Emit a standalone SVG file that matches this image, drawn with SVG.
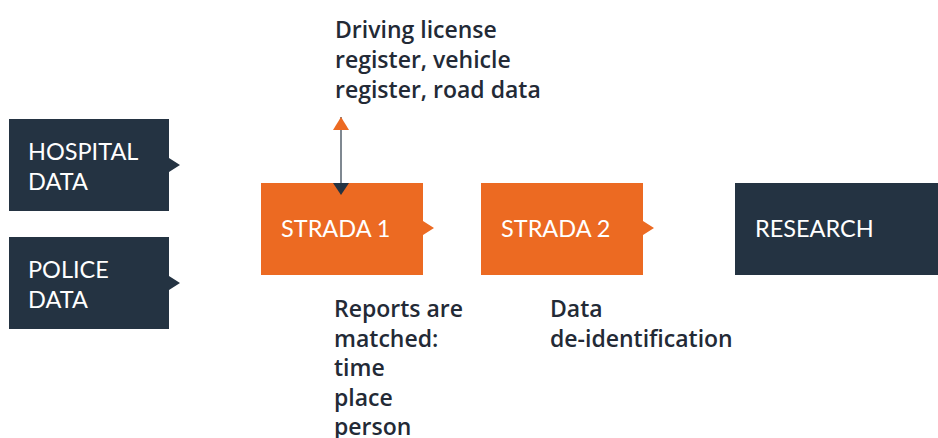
<svg xmlns="http://www.w3.org/2000/svg" width="938" height="438" viewBox="0 0 938 438">
<style>
.dark{fill:#243342}
.orange{fill:#ec6a22}
.lbl{font-family:Lato,"Liberation Sans",sans-serif;font-size:23.5px;fill:#ffffff}
.txt{font-family:"Open Sans","Noto Sans",sans-serif;font-size:23px;font-weight:600;fill:#232a36}
</style>
<defs>
<marker id="upArrow" viewBox="0 0 13 16" refX="13" refY="8" markerWidth="13" markerHeight="16" markerUnits="userSpaceOnUse" orient="auto">
<path d="M0,0 L13,8 L0,16 Z" fill="#ec6a22"/>
</marker>
</defs>
<rect width="938" height="438" fill="#ffffff"/>
<g id="hospital">
<path class="dark" d="M9,119 H169 V158 L180,165 L169,172 V211 H9 Z"/>
<text class="lbl" x="28" y="160">HOSPITAL</text>
<text class="lbl" x="28" y="190">DATA</text>
</g>
<g id="police">
<path class="dark" d="M9,237 H169 V276 L180,283 L169,290 V329 H9 Z"/>
<text class="lbl" x="28" y="278">POLICE</text>
<text class="lbl" x="28" y="308">DATA</text>
</g>
<g id="strada1">
<path class="orange" d="M261,183 H423 V221 L434,228 L423,235 V275 H261 Z"/>
<path class="dark" d="M333,183 H349 L341,195 Z"/>
<text class="lbl" x="281" y="237">STRADA 1</text>
</g>
<g id="strada2">
<path class="orange" d="M481,183 H643 V221 L654,228 L643,235 V275 H481 Z"/>
<text class="lbl" x="501" y="237">STRADA 2</text>
</g>
<g id="research">
<rect class="dark" x="735" y="183" width="203" height="92"/>
<text class="lbl" x="755" y="237">RESEARCH</text>
</g>
<g id="registers">
<text class="txt" x="335" y="38">Driving license</text>
<text class="txt" x="335" y="68">register, vehicle</text>
<text class="txt" x="335" y="98">register, road data</text>
</g>
<g id="matching-note">
<text class="txt" x="334" y="317">Reports are</text>
<text class="txt" x="334" y="346.5">matched:</text>
<text class="txt" x="334" y="376">time</text>
<text class="txt" x="334" y="405.5">place</text>
<text class="txt" x="334" y="435">person</text>
</g>
<g id="deid-note">
<text class="txt" x="550" y="317">Data</text>
<text class="txt" x="550" y="346.5">de-identification</text>
</g>
<g id="connectors">
<line x1="341" y1="183" x2="341" y2="117" stroke="#55606c" stroke-width="1.5" marker-end="url(#upArrow)"/>
</g>
</svg>
